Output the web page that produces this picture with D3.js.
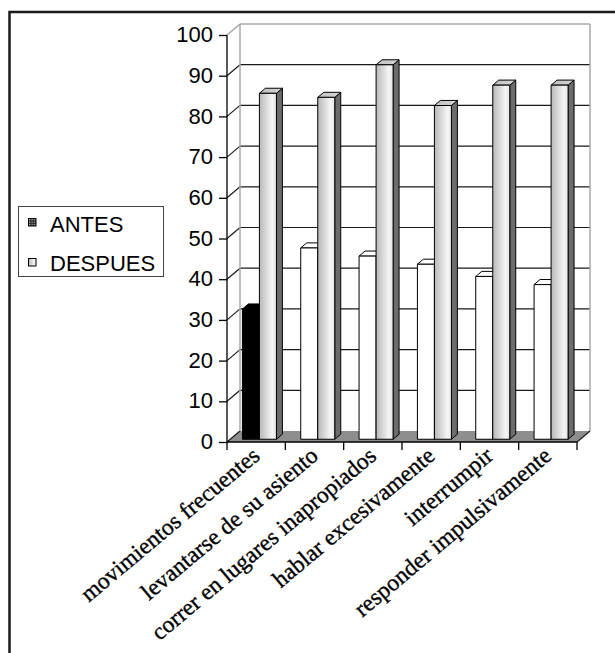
<!DOCTYPE html>
<html>
<head>
<meta charset="utf-8">
<script src="https://cdn.jsdelivr.net/npm/d3@7"></script>
<style>
  html, body { margin: 0; padding: 0; background: #fff; }
  svg { display: block; }
</style>
</head>
<body>
<svg id="chart" width="615" height="653"></svg>
<script>
// Behaviour counts before and after, per category
const categories = [
  "movimientos frecuentes",
  "levantarse de su asiento",
  "correr en lugares inapropiados",
  "hablar excesivamente",
  "interrumpir",
  "responder impulsivamente"
];
const seriesNames = ["ANTES", "DESPUES"];
const antes   = [32, 47, 45, 43, 40, 38];
const despues = [85, 84, 92, 82, 87, 87];
const yTicks  = [0, 10, 20, 30, 40, 50, 60, 70, 80, 90, 100];

const svg = d3.select("#chart");
const defs = svg.append("defs");

// Plot frame (front plane) and depth offset of the 3D box
const plotLeft = 227, plotRight = 577, plotBottom = 442, plotTop = 35;
const depthX = 13, depthY = 11;
const barZ0 = 0.25, barZ1 = 0.71;

const y = d3.scaleLinear().domain([0, 100]).range([plotBottom, plotTop]);
const x0 = d3.scaleBand().domain(categories).range([plotLeft, plotRight]).padding(0);
const x1 = d3.scaleBand().domain(seriesNames).range([0, x0.bandwidth()])
  .paddingInner(0).paddingOuter(0.715);

const P = (px, py, z) => [px + depthX * z, py - depthY * z];
const pts = arr => arr.map(p => p.join(",")).join(" ");

// Outer frame
svg.append("path")
  .attr("d", "M9.5,653 L9.5,12 L615,12")
  .attr("fill", "none").attr("stroke", "#1a1a1a").attr("stroke-width", 2.5);

// Gradients
const gFront = defs.append("linearGradient").attr("id", "gFront")
  .attr("x1", "0").attr("x2", "1").attr("y1", "0").attr("y2", "0");
gFront.append("stop").attr("offset", "0").attr("stop-color", "#b8b8b8");
gFront.append("stop").attr("offset", "0.75").attr("stop-color", "#f5f5f5");
gFront.append("stop").attr("offset", "1").attr("stop-color", "#e6e6e6");
const gTop = defs.append("linearGradient").attr("id", "gTop")
  .attr("x1", "0").attr("x2", "1").attr("y1", "0").attr("y2", "0");
gTop.append("stop").attr("offset", "0").attr("stop-color", "#bdbdbd");
gTop.append("stop").attr("offset", "1").attr("stop-color", "#d8d8d8");

// Checkered pattern for the ANTES legend key
const pat = defs.append("pattern").attr("id", "check")
  .attr("width", 2.6).attr("height", 2.6).attr("patternUnits", "userSpaceOnUse")
  .attr("x", 29).attr("y", 219);
pat.append("rect").attr("width", 2.6).attr("height", 2.6).attr("fill", "#2a2a2a");
pat.append("rect").attr("width", 1.2).attr("height", 1.2).attr("fill", "#c8c8c8");

// Back wall
const backTL = P(plotLeft, y(100), 1), backBR = P(plotRight, y(0), 1);
svg.append("rect")
  .attr("x", backTL[0]).attr("y", backTL[1])
  .attr("width", backBR[0] - backTL[0]).attr("height", backBR[1] - backTL[1])
  .attr("fill", "#fff");

// Floor
svg.append("polygon")
  .attr("points", pts([P(plotLeft, y(0), 0), P(plotRight, y(0), 0), P(plotRight, y(0), 1), P(plotLeft, y(0), 1)]))
  .attr("fill", "#8e8e8e");

// Gridlines: back wall and left side wall
yTicks.forEach(t => {
  const isTop = t === 100;
  const col = isTop ? "#a8a8a8" : "#1a1a1a";
  const a = P(plotLeft, y(t), 0), b = P(plotLeft, y(t), 1), c = P(plotRight, y(t), 1);
  if (t > 0) {
    svg.append("line").attr("x1", b[0]).attr("y1", b[1]).attr("x2", c[0]).attr("y2", c[1])
      .attr("stroke", col).attr("stroke-width", isTop ? 1.5 : 1.2);
  }
  svg.append("line").attr("x1", a[0]).attr("y1", a[1]).attr("x2", b[0]).attr("y2", b[1])
    .attr("stroke", col).attr("stroke-width", isTop ? 1.5 : 1.2);
});

// Wall edges
const wl0 = P(plotLeft, y(0), 1), wl1 = P(plotLeft, y(100), 1);
svg.append("line").attr("x1", wl0[0]).attr("y1", wl0[1]).attr("x2", wl1[0]).attr("y2", wl1[1])
  .attr("stroke", "#a8a8a8").attr("stroke-width", 1.5);
const wr0 = P(plotRight, y(0), 1), wr1 = P(plotRight, y(100), 1);
svg.append("line").attr("x1", wr0[0]).attr("y1", wr0[1]).attr("x2", wr1[0]).attr("y2", wr1[1])
  .attr("stroke", "#a8a8a8").attr("stroke-width", 1.5);
// Floor right edge
const fr0 = P(plotRight, y(0), 0);
svg.append("line").attr("x1", fr0[0]).attr("y1", fr0[1]).attr("x2", wr0[0]).attr("y2", wr0[1])
  .attr("stroke", "#1a1a1a").attr("stroke-width", 1.2);

// Bars
const gBars = svg.append("g");
categories.forEach((cat, i) => {
  [["ANTES", antes[i]], ["DESPUES", despues[i]]].forEach(([s, v]) => {
    const xl = x0(cat) + x1(s) + depthX * barZ0;
    const xr = xl + x1.bandwidth();
    const yb = y(0) - depthY * barZ0;
    const yt = y(v) - depthY * barZ0;
    const dx = depthX * (barZ1 - barZ0), dy = depthY * (barZ1 - barZ0);
    const isAntes = s === "ANTES";
    const dark = isAntes && i === 0;
    const frontFill = isAntes ? (dark ? "#000" : "#fff") : "url(#gFront)";
    const topFill = isAntes ? (dark ? "#000" : "#fff") : "url(#gTop)";
    const sideFill = isAntes ? (dark ? "#000" : "#fff") : "#6c6c6c";
    const g = gBars.append("g").attr("stroke", "#000").attr("stroke-width", 1)
      .attr("stroke-linejoin", "round");
    g.append("polygon").attr("points", pts([[xr, yt], [xr + dx, yt - dy], [xr + dx, yb - dy], [xr, yb]]))
      .attr("fill", sideFill);
    g.append("polygon").attr("points", pts([[xl, yt], [xr, yt], [xr + dx, yt - dy], [xl + dx, yt - dy]]))
      .attr("fill", topFill);
    g.append("rect").attr("x", xl).attr("y", yt).attr("width", xr - xl).attr("height", yb - yt)
      .attr("fill", frontFill);
  });
});

// Value axis
const yAxis = d3.axisLeft(y).tickValues(yTicks).tickSize(8).tickPadding(6);
const gy = svg.append("g").attr("transform", `translate(${plotLeft},0)`).call(yAxis);
gy.select(".domain").attr("stroke", "#000").attr("stroke-width", 1.3).attr("d", `M0,${y(100)}V${y(0)}`);
gy.selectAll(".tick line").attr("stroke", "#000").attr("stroke-width", 1.3);
gy.selectAll(".tick text")
  .attr("font-family", "'Liberation Sans', Arial, sans-serif")
  .attr("font-size", 22).attr("fill", "#000").attr("dy", "0.3em");

// Category axis
const xAxis = d3.axisBottom(x0).tickSize(0).tickFormat("");
const gx = svg.append("g").attr("transform", `translate(0,${plotBottom})`).call(xAxis);
gx.select(".domain").attr("stroke", "#000").attr("stroke-width", 1.3).attr("d", `M${plotLeft},0H${plotRight}`);
const bounds = categories.map(c => x0(c)).concat([plotRight]);
gx.selectAll(".bound").data(bounds).join("line").attr("class", "bound")
  .attr("x1", d => d).attr("x2", d => d).attr("y1", 0).attr("y2", 8)
  .attr("stroke", "#000").attr("stroke-width", 1.3);

svg.append("g").selectAll("text").data(categories).join("text")
  .attr("transform", d => `translate(${x0(d) + x0.bandwidth() / 2 + 5},${plotBottom + 16}) rotate(-40)`)
  .attr("text-anchor", "end")
  .attr("font-family", "'Liberation Serif', 'Times New Roman', serif")
  .attr("font-size", 23.5)
  .attr("fill", "#000")
  .attr("stroke", "#000").attr("stroke-width", 0.35)
  .text(d => d);

// Legend
const lg = svg.append("g");
lg.append("rect").attr("x", 18.5).attr("y", 206.5).attr("width", 145).attr("height", 70)
  .attr("fill", "#fff").attr("stroke", "#444").attr("stroke-width", 1);
const keyFills = ["url(#check)", "url(#gFront)"];
const keyY = [218.5, 258.5];
const textY = [231.5, 271];
seriesNames.forEach((s, i) => {
  lg.append("rect").attr("x", 28.5).attr("y", keyY[i]).attr("width", 7.5).attr("height", 7.5)
    .attr("fill", keyFills[i]).attr("stroke", "#000").attr("stroke-width", 1);
  lg.append("text").attr("x", 50).attr("y", textY[i])
    .attr("font-family", "'Liberation Sans', Arial, sans-serif")
    .attr("font-size", 22).attr("fill", "#000").text(s);
});
</script>
</body>
</html>
